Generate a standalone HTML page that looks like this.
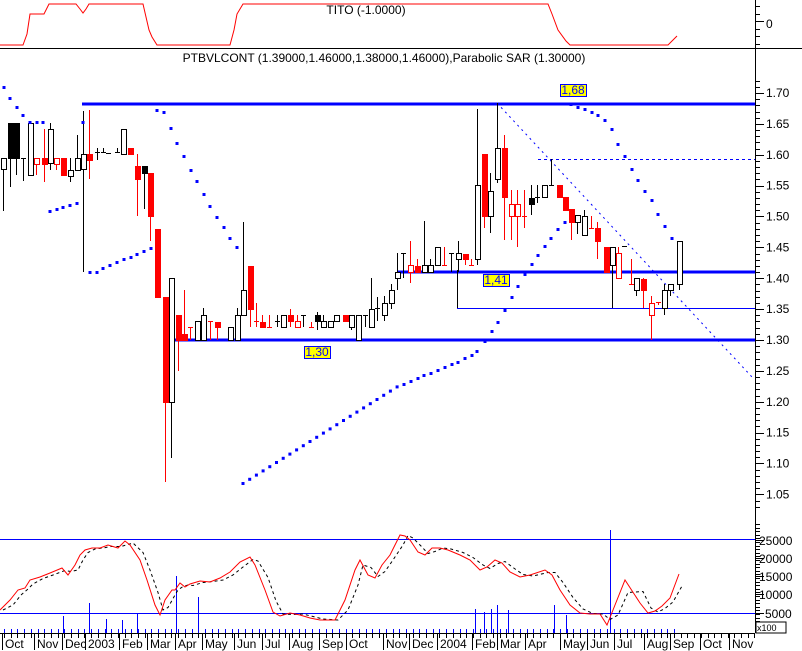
<!DOCTYPE html>
<html><head><meta charset="utf-8"><style>
body{margin:0;background:#fff;}
svg{display:block;font-family:"Liberation Sans",sans-serif;font-size:12px;}
</style></head><body>
<svg id="s" width="802" height="651" viewBox="0 0 802 651" xmlns="http://www.w3.org/2000/svg">
<rect width="802" height="651" fill="#fff"/>
<line x1="0" y1="48.5" x2="802" y2="48.5" stroke="#000"/>
<line x1="755.5" y1="0" x2="755.5" y2="633" stroke="#000"/>
<text x="366" y="14" text-anchor="middle">TITO (-1.0000)</text>
<text x="766" y="28">0</text>
<text x="384" y="62" text-anchor="middle">PTBVLCONT (1.39000,1.46000,1.38000,1.46000),Parabolic SAR (1.30000)</text>
<polyline fill="none" stroke="#f00" stroke-width="1" points="0,45 23,45 27,34 30,14 44,14 49,4 76,4 80,9 83,13 86,9 89,4 143,4 146,17 149,30 152,37 157,45 230,45 234,30 237,14 243,4 548,4 552,14 558,30 566,41 570,45 660,45 668,45 677,36"/>
<g id="g"></g>
<rect x="756" y="622" width="30" height="11" fill="#fff" stroke="#000"/>
<text x="757" y="631" font-size="9">x100</text>
</svg>
<script>
const g=document.getElementById('g');let h='';
function L(x1,y1,x2,y2,c,w,d){h+=`<line x1="${x1}" y1="${y1}" x2="${x2}" y2="${y2}" stroke="${c}" stroke-width="${w||1}"${d?` stroke-dasharray="${d}"`:''}/>`;}
function T(x,y,t,a){h+=`<text x="${x}" y="${y}"${a?` text-anchor="${a}"`:''}>${t}</text>`;}
const yp=p=>93+(1.70-p)*617.5;
for(let i=0;i<=72;i++){const p=1.72-i*0.01;const y=Math.round(yp(p))+0.5;if(y<70||y>510)continue;const major=Math.abs((p*100)%5)<0.01||Math.abs((p*100)%5-5)<0.01;L(755,y,major?764:760,y,'#000');}
for(let i=0;i<14;i++){const p=1.70-i*0.05;T(766,yp(p)+4,p.toFixed(2));}
for(let y=6;y<48;y+=7.5)L(755,Math.round(y)+.5,(Math.abs(y-23.5)<3)?764:760,Math.round(y)+.5,'#000');
for(let y=524;y<633;y+=3.6)L(755,Math.round(y)+.5,760,Math.round(y)+.5,'#000');
[[25000,544],[20000,562],[15000,580],[10000,598],[5000,617]].forEach(a=>{L(755,a[1]+.5-4,764,a[1]+.5-4,'#000');T(a[0]>=10000?759:765,a[1]+1,a[0]);});
L(82,104,755,104,'#00f',3);L(175,340,755,340,'#00f',3);L(397,272,755,272,'#00f',3);
L(457,308.5,755,308.5,'#00f',1);L(538,159.5,755,159.5,'#00f',1,'3,3');
L(497,103,752,377,'#00f',1,'2,4');
L(457.5,270,457.5,308,'#000');L(612.5,247,612.5,308,'#000');
const C=[[3,158,169,158,211,'w'],[10,123,158,123,187,'b'],[16,123,158,123,175,'b'],[23,158,158,158,181,'k'],[30,123,175,122,175,'w'],[36,158,164,158,175,'ro'],[44,158,164,129,182,'r'],[50,129,163,123,170,'w'],[56,158,164,158,170,'ro'],[63,158,175,158,175,'r'],[70,170,176,158,182,'w'],[77,158,170,135,170,'w'],[83,154,169,111,272,'w'],[89,154,160,110,179,'r'],[97,152,152,148,160,'k'],[103,152,152,148,153,'k'],[108,153,153,153,153,'k'],[117,152,152,148,153,'k'],[123,129,154,129,154,'w'],[130,148,154,148,154,'r'],[137,166,179,154,216,'r'],[144,166,173,166,209,'b'],[150,173,216,173,241,'r'],[157,229,297,229,297,'r'],[165,297,402,297,482,'r'],[171,278,402,278,458,'w'],[178,315,340,315,371,'r'],[184,334,340,290,340,'r'],[190,327,327,327,340,'rk'],[197,321,340,321,340,'w'],[203,315,340,308,340,'w'],[210,321,321,321,340,'rk'],[217,322,327,322,340,'r'],[230,327,340,327,340,'w'],[237,315,340,308,340,'w'],[243,290,315,222,315,'w'],[250,266,309,266,327,'r'],[256,321,321,303,327,'rk'],[262,322,327,315,327,'r'],[269,327,327,315,327,'rk'],[277,321,321,315,327,'k'],[283,315,327,315,327,'w'],[290,315,321,309,327,'r'],[297,321,327,315,327,'ro'],[303,315,315,315,327,'k'],[311,327,327,322,327,'rk'],[317,315,321,312,330,'b'],[323,321,327,315,327,'w'],[330,321,327,321,327,'w'],[336,315,321,315,321,'w'],[345,315,321,315,321,'r'],[351,315,327,315,330,'w'],[358,315,340,315,340,'w'],[365,315,315,315,327,'k'],[371,309,327,278,327,'w'],[377,308,308,297,321,'k'],[384,303,315,296,321,'w'],[391,290,303,284,309,'w'],[397,272,278,253,290,'w'],[403,253,253,253,278,'k'],[410,265,272,241,283,'ro'],[417,266,272,259,272,'r'],[424,265,272,221,272,'w'],[430,265,272,259,272,'w'],[437,247,265,247,265,'w'],[444,265,265,247,265,'rk'],[451,253,253,253,272,'k'],[458,253,259,241,272,'w'],[465,254,259,254,265,'r'],[471,265,265,259,265,'rk'],[477,185,259,109,265,'w'],[484,154,216,154,228,'r'],[490,191,216,173,233,'w'],[497,148,179,103,183,'w'],[504,148,197,135,240,'r'],[511,204,216,190,240,'ro'],[517,204,216,190,247,'ro'],[524,216,216,190,228,'rk'],[531,198,204,185,215,'b'],[537,197,197,185,203,'k'],[544,185,197,185,197,'w'],[551,185,185,159,185,'k'],[559,185,197,185,197,'r'],[565,197,210,197,210,'r'],[571,209,222,209,240,'r'],[577,215,222,215,234,'w'],[584,216,235,210,235,'w'],[591,228,228,216,228,'rk'],[597,228,241,222,259,'r'],[606,247,272,247,272,'r'],[612,247,265,247,308,'w'],[618,253,278,247,278,'ro'],[624,246,246,246,246,'k'],[631,284,284,259,284,'rk'],[636,278,290,278,296,'w'],[643,279,290,278,308,'r'],[651,303,315,296,340,'ro'],[658,302,302,302,305,'rk'],[664,290,308,284,315,'w'],[670,284,290,284,296,'w'],[679,241,284,241,290,'w']];
C.forEach(c=>{const[x,bt,bb,wh,wl,t]=c;const red=t[0]=='r';const col=red?'#f00':'#000';
L(x+.5,wh,x+.5,wl,col);
if(t=='k'||t=='rk'){L(x-2,bt+.5,x+3,bt+.5,col);return;}
const fill=(t=='b'?'#000':t=='r'?'#f00':'#fff');
h+=`<rect x="${x-2+.5}" y="${bt+.5}" width="5" height="${Math.max(bb-bt,1)}" fill="${fill}" stroke="${col}"/>`;});
const S=[[4,87],[10,98],[17,107],[23,115],[30,122],[37,122],[43,122],[50,211],[57,209],[63,207],[70,205],[77,203],[83,122],[90,272],[97,272],[103,268],[110,265],[117,262],[124,259],[131,257],[137,254],[144,251],[151,248],[157,110],[164,112],[171,128],[177,143],[184,156],[191,170],[197,181],[204,194],[210,206],[217,217],[224,227],[230,238],[237,247],[571,104],[578,107],[585,109],[592,112],[598,115],[605,120],[612,129],[618,144],[625,156],[632,169],[638,180],[645,191],[652,200],[658,214],[665,226],[672,238]];
for(let i=0;i<24;i++){S.push([243+i*6.7,483-i*4.2]);}
[[404,384],[411,381],[418,378],[424,375],[431,373],[438,370],[445,367],[452,364],[458,362],[465,358],[472,355],[477,351],[485,341],[492,331],[498,322],[505,310],[512,297],[518,286],[525,274],[532,264],[538,255],[545,246],[551,238],[558,229],[565,222]].forEach(p=>S.push(p));
S.forEach(p=>{h+=`<rect x="${p[0]-1.5}" y="${p[1]-1}" width="3" height="3" fill="#00f"/>`;});
[[560,84,'1,68'],[483,274,'1,41'],[304,346,'1,30']].forEach(a=>{h+=`<rect x="${a[0]+.5}" y="${a[1]+.5}" width="26" height="12" fill="#ff0" stroke="#00f"/>`;h+=`<text x="${a[0]+13}" y="${a[1]+10}" text-anchor="middle" fill="#00f">${a[2]}</text>`;});
L(0,539.5,755,539.5,'#00f');L(0,613.5,755,613.5,'#00f');
for(let x=4;x<680;x+=6.7){L(Math.round(x)+.5,629,Math.round(x)+.5,633,'#00f');}
[[63,616],[89,603],[176,576],[198,597],[475,609],[484,612],[491,609],[497,605],[508,610],[554,605],[610,530],[137,614],[122,620],[106,619],[566,615]].forEach(b=>L(b[0]+.5,b[1],b[0]+.5,633,'#00f'));
const R="0,610 10,600 18,590 25,588 30,580 40,577 50,573 62,568 68,575 75,565 80,555 85,550 92,548 100,548 108,545 118,548 125,541 130,545 140,560 147,580 155,605 160,615 165,600 172,590 175,590 180,583 185,587 190,584 200,581 210,582 220,578 230,572 240,562 250,557 255,565 265,590 273,612 280,616 290,613 300,615 310,618 320,620 335,620 345,600 355,570 360,560 368,575 375,578 382,565 390,555 400,535 405,536 410,540 418,552 425,555 432,548 440,548 448,550 460,555 470,560 480,570 487,567 495,560 502,563 510,572 520,577 530,575 545,570 552,575 560,590 570,605 580,613 590,614 600,614 607,625 615,605 625,580 640,603 648,613 655,611 662,606 670,598 679,574";
const D=R.split(' ').map(s=>s.split(',').map(Number)).map((p,i,a)=>{const q=a[Math.max(0,i-1)];return [p[0]+3,(p[1]+q[1])/2];}).map(p=>p.join(',')).join(' ');
h+=`<polyline points="${D}" fill="none" stroke="#000" stroke-dasharray="3,3"/>`;
h+=`<polyline points="${R}" fill="none" stroke="#f00"/>`;
L(0,633.5,755,633.5,'#000');
for(let x=4;x<755;x+=6.7)L(Math.round(x)+.5,633,Math.round(x)+.5,638,'#000');
[[5,'Oct'],[37,'Nov'],[65,'Dec'],[88,'2003'],[122,'Feb'],[150,'Mar'],[178,'Apr'],[205,'May'],[237,'Jun'],[265,'Jul'],[292,'Aug'],[322,'Sep'],[349,'Oct'],[386,'Nov'],[412,'Dec'],[440,'2004'],[475,'Feb'],[500,'Mar'],[528,'Apr'],[563,'May'],[590,'Jun'],[617,'Jul'],[647,'Aug'],[673,'Sep'],[703,'Oct'],[732,'Nov']].forEach(m=>{L(m[0]-2.5,633,m[0]-2.5,650,'#000');T(m[0],648,m[1]);});
g.innerHTML=h;
</script>
</body></html>
